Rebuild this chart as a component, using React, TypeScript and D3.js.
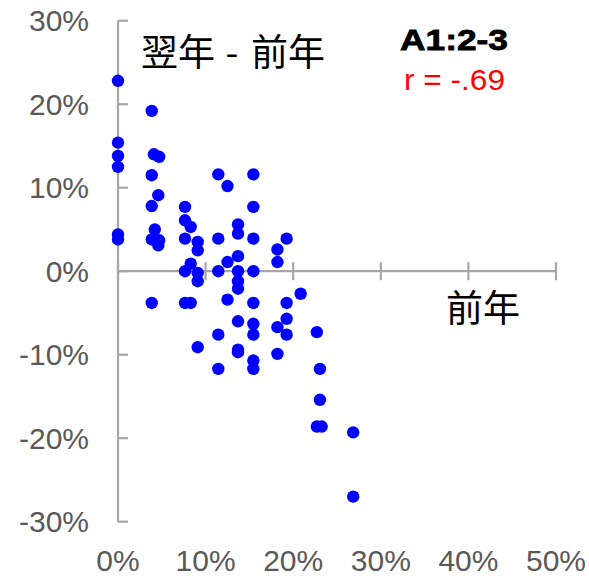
import React from "react";
import * as d3 from "d3";

// x: 前年 (%), y: 翌年 - 前年 (%)
const prevYear = [
  0, 0, 0, 0, 0, 0,
  3.85, 4.1, 4.7, 3.85, 4.6, 3.85, 4.2, 3.85, 4.7, 4.6, 3.85,
  7.65, 7.65, 8.3, 7.65, 9.1, 9.1, 8.3, 7.65, 9.1, 9.1, 7.65, 8.3, 9.1,
  11.45, 11.45, 11.45, 11.45, 11.45,
  12.5, 12.5, 12.5,
  13.7, 13.7, 13.7, 13.7, 13.7, 13.7, 13.7, 13.7, 13.7,
  15.45, 15.45, 15.45, 15.45, 15.45, 15.45, 15.45, 15.45, 15.45,
  18.2, 18.2, 18.2, 18.2,
  19.25, 19.25, 19.25, 19.25,
  20.85,
  22.7, 22.7, 23.05, 23.05, 23.25,
  26.85, 26.85,
];
const diff = [
  22.8, 15.4, 13.8, 12.5, 4.4, 3.8,
  19.2, 14.0, 13.7, 11.5, 9.1, 7.8, 5.0, 3.8, 3.7, 3.1, -3.8,
  7.7, 6.1, 5.3, 3.9, 3.5, 2.5, 0.9, 0.0, -0.2, -1.2, -3.8, -3.8, -9.1,
  11.6, 3.9, 0.0, -7.6, -11.7,
  10.2, 1.1, -3.4,
  5.6, 4.5, 1.8, 0.0, -1.2, -2.1, -6.0, -9.4, -9.7,
  11.6, 7.7, 3.9, 0.0, -3.8, -6.3, -7.6, -10.7, -11.7,
  2.6, 1.1, -6.7, -9.9,
  3.9, -3.8, -5.7, -7.6,
  -2.7,
  -7.3, -18.6, -11.7, -15.4, -18.6,
  -19.3, -27.0,
];
const xTicks = [0, 10, 20, 30, 40, 50];
const yTicks = [-30, -20, -10, 0, 10, 20, 30];
const titleParts = ["翌年", "-", "前年"];
const xTitleText = "前年";
const groupLabel = "A1:2-3";
const corrLabel = "r = -.69";

export default function App() {
  const W = 589;
  const H = 576;
  const x = d3.scaleLinear().domain([0, 50]).range([118, 556]);
  const y = d3.scaleLinear().domain([-30, 30]).range([521.7, 20.7]);
  const axisColor = "#a6a6a6";
  const labelColor = "#595959";
  const pts = prevYear.map((v, i) => [v, diff[i]]);
  const cjk = "'Noto Sans CJK JP', sans-serif";
  return (
    <svg
      width={W}
      height={H}
      style={{ position: "absolute", left: 0, top: 0, background: "#fff" }}
    >
      {/* y axis */}
      <line x1={x(0)} x2={x(0)} y1={y(30)} y2={y(-30)} stroke={axisColor} strokeWidth={2.2} />
      {yTicks.map((t) => (
        <line key={"yt" + t} x1={x(0)} x2={x(0) + 10} y1={y(t)} y2={y(t)} stroke={axisColor} strokeWidth={2.2} />
      ))}
      {yTicks.map((t) => (
        <text
          key={"yl" + t}
          x={89}
          y={y(t)}
          textAnchor="end"
          dominantBaseline="central"
          fontFamily="'Liberation Sans', Arial, sans-serif"
          fontSize={30}
          fill={labelColor}
        >
          {t + "%"}
        </text>
      ))}
      {/* x axis */}
      <line x1={x(0)} x2={x(50)} y1={y(0)} y2={y(0)} stroke={axisColor} strokeWidth={2.2} />
      {xTicks.map((t) => (
        <line key={"xt" + t} x1={x(t)} x2={x(t)} y1={y(0) - 9} y2={y(0) + 9} stroke={axisColor} strokeWidth={2.2} />
      ))}
      {xTicks.map((t) => (
        <text
          key={"xl" + t}
          x={x(t)}
          y={560}
          textAnchor="middle"
          dominantBaseline="central"
          fontFamily="'Liberation Sans', Arial, sans-serif"
          fontSize={30}
          fill={labelColor}
        >
          {t + "%"}
        </text>
      ))}
      {/* points */}
      {pts.map((p, i) => (
        <circle key={"p" + i} cx={x(p[0])} cy={y(p[1])} r={6.2} fill="#0000ff" />
      ))}
      {/* titles */}
      <text x={141} y={50} dominantBaseline="central" fontFamily={cjk} fontSize={37} fill="#000">
        {titleParts[0]}
      </text>
      <text x={232} y={50} textAnchor="middle" dominantBaseline="central" fontFamily={cjk} fontSize={37} fill="#000">
        {titleParts[1]}
      </text>
      <text x={251} y={50} dominantBaseline="central" fontFamily={cjk} fontSize={37} fill="#000">
        {titleParts[2]}
      </text>
      <text x={446} y={306} dominantBaseline="central" fontFamily={cjk} fontSize={37} fill="#000">
        {xTitleText}
      </text>
      <text
        x={400}
        y={50}
        fontFamily="'Liberation Sans', Arial, sans-serif"
        fontWeight="bold"
        fontSize={30}
        textLength={108}
        lengthAdjust="spacingAndGlyphs"
        fill="#000"
        stroke="#000"
        strokeWidth={0.8}
      >
        {groupLabel}
      </text>
      <text
        x={404}
        y={90}
        fontFamily="'Liberation Sans', Arial, sans-serif"
        fontSize={30}
        textLength={101}
        lengthAdjust="spacingAndGlyphs"
        fill="#ff0000"
      >
        {corrLabel}
      </text>
    </svg>
  );
}
